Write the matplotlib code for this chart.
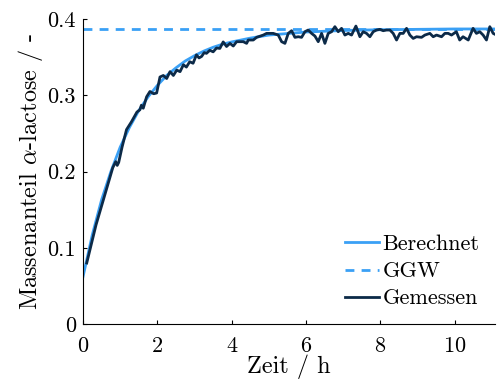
import matplotlib
matplotlib.use("Agg")
import matplotlib.pyplot as plt

plt.rcParams['font.family'] = 'serif'
plt.rcParams['font.serif'] = ['cmr10', 'DejaVu Serif']
plt.rcParams['mathtext.fontset'] = 'cm'
plt.rcParams['axes.unicode_minus'] = False
plt.rcParams['axes.formatter.use_mathtext'] = True

# Berechnet (calculated) curve
t_calc = [0.0, 0.25, 0.5, 0.75, 1.0, 1.25, 1.5, 1.75, 2.0, 2.25, 2.5, 2.75, 3.0,
          3.25, 3.5, 3.75, 4.0, 4.5, 5.0, 5.5, 6.0, 7.0, 8.0, 9.0, 10.0, 11.1]
y_calc = [0.062, 0.117, 0.163, 0.200, 0.232, 0.258, 0.280, 0.298, 0.313, 0.326,
          0.336, 0.345, 0.352, 0.358, 0.363, 0.367, 0.370, 0.375, 0.379, 0.381,
          0.383, 0.385, 0.386, 0.3865, 0.387, 0.387]

# GGW (equilibrium)
ggw = 0.387

# Gemessen (measured)
t_meas = [0.10, 0.2, 0.35, 0.5, 0.65, 0.8, 0.88, 0.92, 0.96, 1.05, 1.17, 1.3,
          1.45, 1.53, 1.57, 1.62, 1.71, 1.80, 1.90, 1.98, 2.07, 2.16, 2.25,
          2.34, 2.43, 2.52, 2.61, 2.70, 2.78, 2.87, 2.96, 3.05, 3.12, 3.19,
          3.26, 3.32, 3.41, 3.5, 3.59, 3.68, 3.77, 3.86,
          3.952, 4.041, 4.131, 4.310, 4.400, 4.444, 4.579, 4.668, 4.848, 4.937,
          5.116, 5.251, 5.341, 5.430, 5.520, 5.609, 5.699, 5.789, 5.878, 5.968,
          6.057, 6.147, 6.237, 6.326, 6.416, 6.505, 6.595, 6.685, 6.774, 6.864,
          6.953, 7.043, 7.133, 7.222, 7.339, 7.446, 7.536, 7.625, 7.715, 7.805,
          7.894, 7.984, 8.073, 8.163, 8.253, 8.342, 8.432, 8.522, 8.611, 8.701,
          8.790, 8.880, 8.970, 9.104, 9.194, 9.328, 9.418, 9.507, 9.642, 9.731,
          9.821, 9.910, 10.04, 10.13, 10.22, 10.36, 10.49, 10.58, 10.67, 10.76,
          10.85, 10.94, 11.03, 11.12]
y_meas = [0.080, 0.100, 0.130, 0.155, 0.180, 0.205, 0.213, 0.208, 0.212, 0.232,
          0.255, 0.265, 0.278, 0.281, 0.287, 0.283, 0.298, 0.305, 0.302, 0.303,
          0.324, 0.326, 0.322, 0.331, 0.326, 0.333, 0.331, 0.340, 0.337, 0.344,
          0.342, 0.353, 0.349, 0.351, 0.356, 0.355, 0.359, 0.357, 0.362, 0.3615,
          0.370, 0.364,
          0.3681, 0.3646, 0.3703, 0.3703, 0.3681, 0.3725, 0.3725, 0.376, 0.379,
          0.3812, 0.3812, 0.379, 0.3703, 0.3681, 0.3812, 0.3847, 0.376, 0.3768,
          0.376, 0.3834, 0.3856, 0.3812, 0.3777, 0.3703, 0.3812, 0.3681, 0.3812,
          0.3834, 0.390, 0.3834, 0.3878, 0.379, 0.3812, 0.379, 0.3908, 0.3768,
          0.3834, 0.3812, 0.3768, 0.3834, 0.3856, 0.3865, 0.3847, 0.3856, 0.3856,
          0.3812, 0.3725, 0.3812, 0.3812, 0.3878, 0.379, 0.3746, 0.3768, 0.376,
          0.379, 0.3812, 0.3768, 0.379, 0.3768, 0.3812, 0.3812, 0.379, 0.3834,
          0.3725, 0.3768, 0.3725, 0.3878, 0.3812, 0.3834, 0.379, 0.3725, 0.390,
          0.3812, 0.379]

x_ticks = [0, 2, 4, 6, 8, 10]
y_ticks = [0, 0.1, 0.2, 0.3, 0.4]
y_tick_labels = ["0", "0.1", "0.2", "0.3", "0.4"]

c_calc = "#3aa0f5"
c_meas = "#0c2a48"

fig = plt.figure(figsize=(4.98, 3.81), dpi=100)
ax = fig.add_axes([0.1667, 0.1496, 0.8273, 0.8004])

ax.plot(t_calc, y_calc, color=c_calc, lw=2.0, label="Berechnet", zorder=2)
ax.axhline(ggw, color=c_calc, lw=2.0, ls=(0, (3.2, 2.6)), label="GGW", zorder=2)
ax.plot(t_meas, y_meas, color=c_meas, lw=2.0, label="Gemessen", zorder=3)

ax.set_xlim(0, 11.08)
ax.set_ylim(0, 0.4)
ax.set_xticks(x_ticks)
ax.set_yticks(y_ticks)
ax.set_yticklabels(y_tick_labels)
ax.tick_params(direction='in', length=3, width=0.8, labelsize=16)
ax.tick_params(axis='x', pad=9)
ax.tick_params(axis='y', pad=5)
for s in ['top', 'right']:
    ax.spines[s].set_visible(False)
for s in ['left', 'bottom']:
    ax.spines[s].set_linewidth(0.8)

ax.set_xlabel("Zeit / h", fontsize=17.5, labelpad=-1)
ax.set_ylabel(r"Massenanteil $\alpha$-lactose / -", fontsize=17.5, labelpad=2)

leg = ax.legend(loc='lower right', frameon=False, fontsize=16,
                handlelength=1.55, handletextpad=0.15, labelspacing=0.34,
                borderpad=0.2, borderaxespad=0.5, bbox_to_anchor=(1.0, 0.0))

fig.savefig("out.png", dpi=100)
